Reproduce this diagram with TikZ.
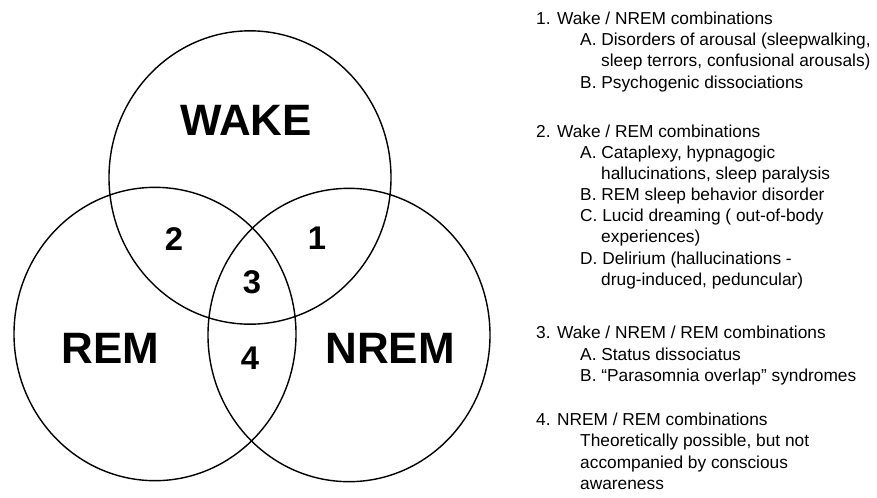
\documentclass[tikz,border=0pt]{standalone}
\usepackage{fontspec}
\setmainfont{Liberation Sans}
\newcommand{\subind}{\hspace*{1.32cm}}
\newcommand{\contind}{\hspace*{1.95cm}}
\begin{document}
\begin{tikzpicture}[x=0.03cm, y=-0.03cm,
  setline/.style={line width=1.2pt},
  setname/.style={font=\bfseries\fontsize{37.5}{40}\selectfont, inner sep=0pt},
  zonenum/.style={font=\bfseries\fontsize{28}{30}\selectfont, inner sep=0pt},
  legend/.style={anchor=base west, align=left, inner sep=0pt, font=\fontsize{14.77}{17.93}\selectfont}]
\useasboundingbox (0,0) rectangle (877,497);

% the three sets
\coordinate (wakec) at (250,177.5);
\coordinate (remc) at (155,334);
\coordinate (nremc) at (349,335);
\draw[setline] (wakec) ellipse [x radius=4.23cm, y radius=4.40cm];
\draw[setline] (remc) ellipse [x radius=4.23cm, y radius=4.40cm];
\draw[setline] (nremc) ellipse [x radius=4.23cm, y radius=4.40cm];

\node[setname] (wake) at (246,120) {WAKE};
\node[setname] (rem) at (110.5,348) {REM};
\node[setname] (nrem) at (390,348) {NREM};

% overlap numbers
\node[zonenum] (z1) at (317,238) {1};
\node[zonenum] (z2) at (174,239) {2};
\node[zonenum] (z3) at (252,282) {3};
\node[zonenum] (z4) at (250,358) {4};

% legend (placed by the baseline of the last line)
\node[legend] (g1) at (536,88) {1. Wake / NREM combinations\\
\subind A. Disorders of arousal (sleepwalking,\\
\contind sleep terrors, confusional arousals)\\
\subind B. Psychogenic dissociations};
\node[legend] (g2) at (536,285) {2. Wake / REM combinations\\
\subind A. Cataplexy, hypnagogic\\
\contind hallucinations, sleep paralysis\\
\subind B. REM sleep behavior disorder\\
\subind C. Lucid dreaming ( out-of-body\\
\contind experiences)\\
\subind D. Delirium (hallucinations -\\
\contind drug-induced, peduncular)};
\node[legend] (g3) at (536,381) {3. Wake / NREM / REM combinations\\
\subind A. Status dissociatus\\
\subind B. ``Parasomnia overlap'' syndromes};
\node[legend] (g4) at (536,489) {4. NREM / REM combinations\\
\subind Theoretically possible, but not\\
\subind accompanied by conscious\\
\subind awareness};
\end{tikzpicture}
\end{document}
